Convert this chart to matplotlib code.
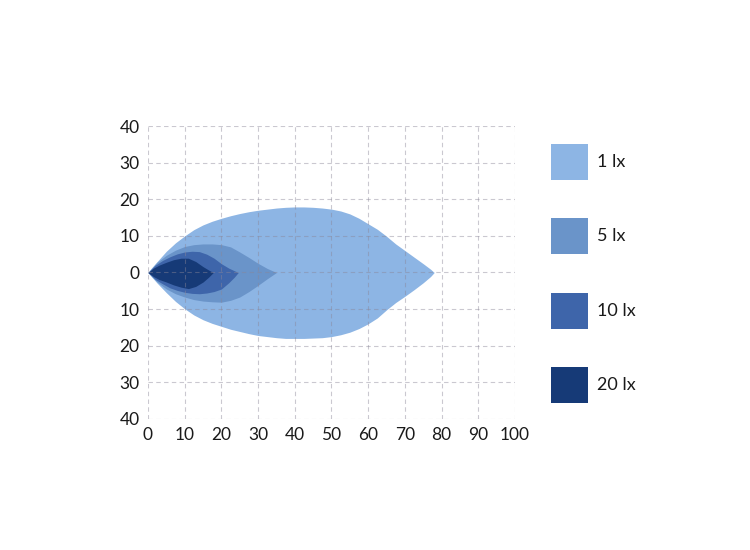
import numpy as np
import matplotlib.pyplot as plt
from matplotlib.patches import Rectangle

# illuminance zones: distance along beam (m) and half-width above / below axis (m)
labels = ["1 lx", "5 lx", "10 lx", "20 lx"]
colors = ["#8db5e4", "#6a94c9", "#3e65aa", "#163a77"]

x_1 = [0, 1, 2.5, 5, 7.5, 10, 12.5, 15, 17.5, 20, 22.5, 25, 27.5, 30, 32.5, 35, 37.5, 40,
       42.5, 45, 47.5, 50, 52.5, 55, 57.5, 60, 62.5, 65, 67.5, 70, 72.5, 75, 77, 78]
up_1 = [0, 1.3, 3.0, 5.8, 8.1, 10.0, 11.7, 13.0, 14.0, 14.8, 15.5, 16.1, 16.6, 17.0, 17.3, 17.6, 17.8, 17.9,
        17.9, 17.8, 17.6, 17.3, 16.8, 16.0, 14.8, 13.3, 11.8, 9.9, 7.8, 6.0, 4.2, 2.4, 0.9, 0]
lo_1 = [0, -1.2, -2.9, -5.5, -7.9, -9.9, -11.6, -12.9, -13.9, -14.7, -15.5, -16.1, -16.7, -17.2, -17.5, -17.8, -18.0, -18.0,
        -18.0, -17.9, -17.8, -17.5, -17.0, -16.3, -15.3, -14.0, -12.4, -10.2, -8.2, -6.5, -4.7, -2.8, -1.1, 0]

x_5 = [0, 2.5, 5, 7.5, 10, 12.5, 15, 17.5, 20, 22.5, 25, 27.5, 30, 32.5, 35]
up_5 = [0, 2.8, 4.7, 6.1, 7.1, 7.6, 7.8, 7.8, 7.6, 7.0, 5.6, 4.1, 2.5, 1.1, 0]
lo_5 = [0, -2.6, -4.5, -5.8, -6.7, -7.4, -7.8, -8.0, -8.1, -7.6, -6.7, -5.2, -3.5, -1.7, 0]

x_10 = [0, 2, 4, 6, 8, 10, 12, 14, 16, 18, 20, 22, 23.5, 24.6]
up_10 = [0, 2.0, 3.3, 4.3, 5.1, 5.6, 5.8, 5.7, 5.0, 3.9, 2.4, 1.2, 0.5, 0]
lo_10 = [0, -1.9, -3.1, -4.2, -4.9, -5.4, -5.7, -5.8, -5.6, -5.2, -4.5, -2.8, -1.3, 0]

x_20 = [0, 1.5, 3, 5, 7, 9, 11, 13, 15, 16.5, 17.8]
up_20 = [0, 1.2, 2.0, 2.8, 3.5, 3.9, 3.9, 3.0, 1.6, 0.7, 0]
lo_20 = [0, -1.1, -1.9, -2.6, -3.4, -4.0, -4.4, -3.8, -2.6, -1.3, 0]

zones = [(x_1, up_1, lo_1), (x_5, up_5, lo_5), (x_10, up_10, lo_10), (x_20, up_20, lo_20)]

plt.rcParams['font.family'] = ['Lato', 'DejaVu Sans']

fig = plt.figure(figsize=(7.5, 5.5), dpi=100)
ax = fig.add_axes([0.1973, 0.2382, 0.4893, 0.5327])

for (x, up, lo), c in zip(zones, colors):
    ax.fill_between(x, lo, up, color=c, linewidth=0, zorder=1)

ax.set_xlim(0, 100)
ax.set_ylim(-40, 40)
ax.set_xticks(np.arange(0, 101, 10))
ax.set_yticks(np.arange(-40, 41, 10))
ax.set_yticklabels([str(abs(v)) for v in range(-40, 41, 10)])
ax.tick_params(length=0, labelsize=12.5, colors="#1a1a1a", pad=6)
ax.set_axisbelow(False)
ax.grid(True, linestyle=(0, (4, 3)), color="#8a8698", alpha=0.45, linewidth=0.8)
for s in ax.spines.values():
    s.set_visible(False)

# legend: coloured squares with labels on the right
W, H = 750, 550
for i, (lab, c) in enumerate(zip(labels, colors)):
    top = 144 + i * 74.3
    fig.add_artist(Rectangle((551 / W, 1 - (top + 36) / H), 37 / W, 36 / H,
                             transform=fig.transFigure, facecolor=c, edgecolor="none"))
    fig.text(597 / W, 1 - (top + 18) / H, lab, fontsize=13, va="center", ha="left", color="#1a1a1a")

fig.savefig("out.png", dpi=100)
